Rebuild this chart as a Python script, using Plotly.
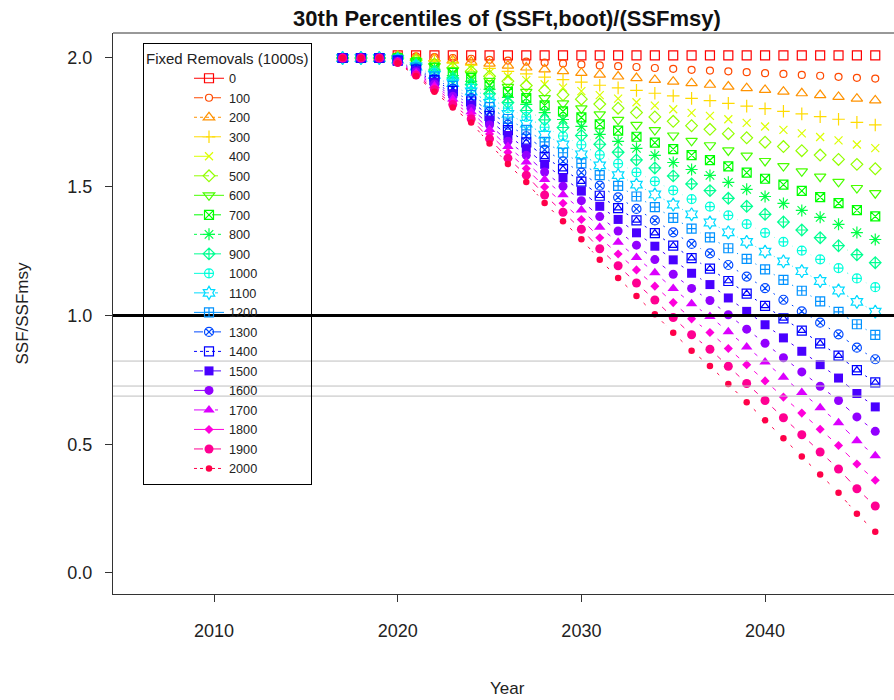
import math
import plotly.graph_objects as go

# ---------------- data ----------------
years = [2017, 2018, 2019, 2020, 2021, 2022, 2023, 2024, 2025, 2026,
         2027, 2028, 2029, 2030, 2031, 2032, 2033, 2034, 2035, 2036,
         2037, 2038, 2039, 2040, 2041, 2042, 2043, 2044, 2045, 2046]

removals = [0, 100, 200, 300, 400, 500, 600, 700, 800, 900, 1000,
            1100, 1200, 1300, 1400, 1500, 1600, 1700, 1800, 1900, 2000]

s0 = [2.0, 2.0, 2.0, 2.01, 2.01, 2.01, 2.01, 2.01, 2.01, 2.01, 2.01, 2.01, 2.01, 2.01, 2.01,
      2.01, 2.01, 2.01, 2.01, 2.01, 2.01, 2.01, 2.01, 2.01, 2.01, 2.01, 2.01, 2.01, 2.01, 2.01]
s100 = [2.0, 2.0, 2.0, 2.009, 2.006, 2.003, 2.000, 1.997, 1.993, 1.990, 1.986, 1.982, 1.979, 1.975,
        1.971, 1.968, 1.965, 1.961, 1.958, 1.954, 1.951, 1.948, 1.945, 1.941, 1.938, 1.934, 1.931,
        1.927, 1.923, 1.920]
s200 = [2.0, 2.0, 2.0, 2.007, 2.002, 1.997, 1.991, 1.985, 1.978, 1.970, 1.963, 1.956, 1.949, 1.942,
        1.935, 1.928, 1.922, 1.915, 1.908, 1.902, 1.896, 1.889, 1.883, 1.876, 1.869, 1.863, 1.856,
        1.849, 1.842, 1.835]
s300 = [2.0, 2.0, 2.0, 2.006, 1.998, 1.990, 1.981, 1.972, 1.960, 1.948, 1.938, 1.926, 1.916, 1.906,
        1.894, 1.884, 1.874, 1.863, 1.853, 1.843, 1.834, 1.824, 1.813, 1.803, 1.793, 1.783, 1.772,
        1.762, 1.750, 1.740]
s400 = [2.0, 2.0, 2.0, 2.004, 1.994, 1.983, 1.971, 1.959, 1.943, 1.928, 1.914, 1.898, 1.885, 1.871,
        1.856, 1.842, 1.828, 1.815, 1.801, 1.787, 1.775, 1.762, 1.748, 1.734, 1.721, 1.707, 1.693,
        1.680, 1.664, 1.650]
s500 = [2.0, 2.0, 2.0, 2.003, 1.991, 1.977, 1.962, 1.948, 1.929, 1.910, 1.893, 1.874, 1.857, 1.840,
        1.821, 1.805, 1.788, 1.771, 1.754, 1.737, 1.723, 1.706, 1.690, 1.673, 1.656, 1.640, 1.623,
        1.606, 1.587, 1.570]
s600 = [2.0, 2.0, 2.0, 2.001, 1.987, 1.969, 1.952, 1.935, 1.911, 1.888, 1.868, 1.844, 1.824, 1.804,
        1.781, 1.760, 1.740, 1.720, 1.699, 1.678, 1.661, 1.641, 1.621, 1.600, 1.580, 1.560, 1.539,
        1.519, 1.495, 1.475]
s700 = [2.0, 2.0, 2.0, 2.000, 1.983, 1.963, 1.942, 1.922, 1.894, 1.868, 1.844, 1.816, 1.793, 1.769,
        1.742, 1.718, 1.694, 1.671, 1.646, 1.623, 1.603, 1.579, 1.555, 1.531, 1.508, 1.484, 1.460,
        1.436, 1.409, 1.385]
s800 = [2.0, 2.0, 2.0, 1.999, 1.979, 1.956, 1.932, 1.909, 1.878, 1.847, 1.820, 1.788, 1.761, 1.734,
        1.703, 1.676, 1.649, 1.622, 1.594, 1.567, 1.544, 1.517, 1.490, 1.462, 1.435, 1.408, 1.381,
        1.354, 1.322, 1.295]
s900 = [2.0, 2.0, 2.0, 1.997, 1.975, 1.949, 1.922, 1.897, 1.861, 1.827, 1.796, 1.760, 1.730, 1.699,
        1.665, 1.634, 1.604, 1.573, 1.542, 1.511, 1.485, 1.455, 1.424, 1.393, 1.363, 1.332, 1.302,
        1.271, 1.236, 1.205]
s1000 = [2.0, 2.0, 2.0, 1.996, 1.971, 1.942, 1.912, 1.883, 1.844, 1.805, 1.771, 1.731, 1.697, 1.663,
         1.624, 1.590, 1.556, 1.521, 1.486, 1.452, 1.423, 1.389, 1.355, 1.321, 1.286, 1.252, 1.218,
         1.184, 1.144, 1.110]
s1100 = [2.0, 2.0, 2.0, 1.994, 1.967, 1.934, 1.902, 1.870, 1.826, 1.783, 1.745, 1.702, 1.664, 1.626,
         1.583, 1.545, 1.508, 1.470, 1.431, 1.393, 1.361, 1.323, 1.286, 1.248, 1.210, 1.172, 1.134,
         1.097, 1.053, 1.015]
s1200 = [2.0, 2.0, 2.0, 1.993, 1.963, 1.928, 1.892, 1.857, 1.809, 1.763, 1.721, 1.674, 1.632, 1.591,
         1.545, 1.503, 1.462, 1.421, 1.379, 1.337, 1.303, 1.261, 1.220, 1.179, 1.138, 1.096, 1.055,
         1.014, 0.966, 0.925]
s1300 = [2.0, 2.0, 2.0, 1.991, 1.959, 1.920, 1.881, 1.844, 1.792, 1.741, 1.696, 1.644, 1.599, 1.555,
         1.504, 1.459, 1.414, 1.369, 1.323, 1.278, 1.241, 1.196, 1.151, 1.106, 1.061, 1.016, 0.972,
         0.927, 0.875, 0.830]
s1400 = [2.0, 2.0, 2.0, 1.990, 1.955, 1.914, 1.872, 1.831, 1.775, 1.720, 1.672, 1.616, 1.568, 1.520,
         1.465, 1.417, 1.369, 1.320, 1.271, 1.223, 1.182, 1.134, 1.085, 1.037, 0.989, 0.941, 0.892,
         0.844, 0.788, 0.740]
s1500 = [2.0, 2.0, 2.0, 1.988, 1.951, 1.906, 1.861, 1.818, 1.758, 1.699, 1.647, 1.587, 1.535, 1.483,
         1.424, 1.373, 1.321, 1.269, 1.216, 1.164, 1.120, 1.068, 1.016, 0.964, 0.913, 0.861, 0.809,
         0.757, 0.697, 0.645]
s1600 = [2.0, 2.0, 2.0, 1.987, 1.947, 1.899, 1.851, 1.804, 1.740, 1.677, 1.622, 1.557, 1.502, 1.446,
         1.384, 1.328, 1.273, 1.217, 1.160, 1.105, 1.058, 1.003, 0.947, 0.892, 0.836, 0.781, 0.725,
         0.670, 0.606, 0.550]
s1700 = [2.0, 2.0, 2.0, 1.985, 1.942, 1.892, 1.841, 1.791, 1.722, 1.656, 1.596, 1.528, 1.469, 1.410,
         1.343, 1.284, 1.225, 1.166, 1.105, 1.046, 0.996, 0.937, 0.878, 0.819, 0.760, 0.701, 0.642,
         0.583, 0.514, 0.455]
s1800 = [2.0, 2.0, 2.0, 1.984, 1.938, 1.885, 1.830, 1.777, 1.705, 1.634, 1.571, 1.499, 1.436, 1.373,
         1.302, 1.239, 1.177, 1.114, 1.050, 0.987, 0.934, 0.872, 0.809, 0.746, 0.683, 0.621, 0.558,
         0.495, 0.423, 0.360]
s1900 = [2.0, 2.0, 2.0, 1.982, 1.934, 1.877, 1.819, 1.763, 1.686, 1.611, 1.545, 1.468, 1.401, 1.335,
         1.259, 1.193, 1.126, 1.060, 0.992, 0.925, 0.869, 0.803, 0.736, 0.670, 0.603, 0.537, 0.470,
         0.404, 0.327, 0.260]
s2000 = [2.0, 2.0, 2.0, 1.980, 1.930, 1.869, 1.808, 1.749, 1.668, 1.588, 1.518, 1.437, 1.366, 1.296,
         1.216, 1.146, 1.076, 1.005, 0.933, 0.863, 0.804, 0.734, 0.663, 0.593, 0.523, 0.452, 0.382,
         0.312, 0.230, 0.160]

series = [s0, s100, s200, s300, s400, s500, s600, s700, s800, s900, s1000,
          s1100, s1200, s1300, s1400, s1500, s1600, s1700, s1800, s1900, s2000]

target_level = [1.0]
other_levels = [0.823, 0.726, 0.687]

x_ticks = [2010, 2020, 2030, 2040]
y_ticks = [0.0, 0.5, 1.0, 1.5, 2.0]
y_ticktext = ["0.0", "0.5", "1.0", "1.5", "2.0"]

# ---------------- styles ----------------
colors = ["#FF0000", "#FF4900", "#FF9200", "#FFDB00", "#DBFF00", "#92FF00", "#49FF00",
          "#00FF00", "#00FF49", "#00FF92", "#00FFDB", "#00DBFF", "#0092FF", "#0049FF",
          "#0000FF", "#4900FF", "#9200FF", "#DB00FF", "#FF00DB", "#FF0092", "#FF0049"]
symbols = ["square-open", "circle-open", "triangle-up-open", "cross-thin-open", "x-thin-open",
           "diamond-open", "triangle-down-open", "square-x-open", "asterisk-open",
           "diamond-cross-open", "circle-cross-open", "hexagram-open", "square-cross-open",
           "circle-x-open", "square-open", "square", "circle", "triangle-up", "diamond",
           "circle", "circle"]
sizes = [9, 7, 10, 9, 8, 9, 10, 9, 10, 9, 9, 10, 9, 9, 9, 9, 9, 10, 7, 9, 6.5]
dashes = ["solid", "dash", "dot", "dashdot", "longdash", "longdashdot"]

FONT = "Arial, Liberation Sans, sans-serif"
W, H = 894, 700
M = dict(l=113, r=0, t=33, b=106)
x_range = [2004.5, 2047.02]
y_range = [-0.0816, 2.097]
px_x = (W - M["l"] - M["r"]) / (x_range[1] - x_range[0])
px_y = (H - M["t"] - M["b"]) / (y_range[1] - y_range[0])
GAP = 10  # px gap around points (type="b" look)


def gapped(xs, ys):
    gx, gy = [], []
    for i in range(len(xs) - 1):
        dx = (xs[i + 1] - xs[i]) * px_x
        dy = (ys[i + 1] - ys[i]) * px_y
        L = math.hypot(dx, dy)
        if L > 2 * GAP:
            t = GAP / L
            gx += [xs[i] + t * (xs[i + 1] - xs[i]), xs[i + 1] - t * (xs[i + 1] - xs[i]), None]
            gy += [ys[i] + t * (ys[i + 1] - ys[i]), ys[i + 1] - t * (ys[i + 1] - ys[i]), None]
    return gx, gy


def marker_style(i):
    sym = symbols[i]
    if sym.endswith("-open"):
        return dict(symbol=sym, size=sizes[i], color=colors[i],
                    line=dict(color=colors[i], width=1.2))
    return dict(symbol=sym, size=sizes[i], color=colors[i], line=dict(width=0))


fig = go.Figure()

# connecting line pieces
for i, ys in enumerate(series):
    gx, gy = gapped(years, ys)
    fig.add_trace(go.Scatter(x=gx, y=gy, mode="lines", showlegend=False, hoverinfo="skip",
                             line=dict(color=colors[i], width=1, dash=dashes[i % 6])))

# points
for i, ys in enumerate(series):
    fig.add_trace(go.Scatter(x=years, y=ys, mode="markers", showlegend=False,
                             name=str(removals[i]), marker=marker_style(i)))
    if i == 14:  # square with triangle inside
        fig.add_trace(go.Scatter(x=years, y=ys, mode="markers", showlegend=False,
                                 hoverinfo="skip",
                                 marker=dict(symbol="triangle-up-open", size=7, color=colors[i],
                                             line=dict(color=colors[i], width=1.2))))

# legend entries
for i, r in enumerate(removals):
    fig.add_trace(go.Scatter(x=[None], y=[None], mode="lines+markers", name=str(r),
                             line=dict(color=colors[i], width=1, dash=dashes[i % 6]),
                             marker=marker_style(i)))

shapes = []
for v in target_level:
    shapes.append(dict(type="line", xref="paper", x0=0, x1=1, yref="y", y0=v, y1=v,
                       line=dict(color="#000000", width=3), layer="above"))
for v in other_levels:
    shapes.append(dict(type="line", xref="paper", x0=0, x1=1, yref="y", y0=v, y1=v,
                       line=dict(color="#BEBEBE", width=1), layer="above"))
shapes.append(dict(type="line", xref="paper", x0=0, x1=1, yref="paper", y0=1, y1=1,
                   line=dict(color="#333333", width=1)))

fig.update_layout(
    width=W, height=H, margin=M,
    paper_bgcolor="white", plot_bgcolor="white",
    font=dict(family=FONT, color="#222222"),
    title=dict(text="30th Percentiles of (SSFt,boot)/(SSFmsy)", xref="container",
               x=507 / W, xanchor="center", yref="container", y=1 - 18 / H, yanchor="middle",
               font=dict(size=22, weight="bold", color="#111111", family=FONT)),
    xaxis=dict(range=x_range, tickvals=x_ticks, ticks="outside", ticklen=7,
               tickcolor="#333333", showline=True, linecolor="#333333", linewidth=1,
               showgrid=False, zeroline=False, tickfont=dict(size=18), ticklabelstandoff=13),
    yaxis=dict(range=y_range, tickvals=y_ticks, ticktext=y_ticktext, ticks="outside",
               ticklen=7, tickcolor="#333333", showline=True, linecolor="#333333",
               linewidth=1, showgrid=False, zeroline=False, tickfont=dict(size=18),
               ticklabelstandoff=9),
    legend=dict(x=(143 - 113) / 781, y=(594 - 43) / 561, xanchor="left", yanchor="top",
                bordercolor="#000000", borderwidth=1, bgcolor="rgba(0,0,0,0)",
                font=dict(size=12.7, family=FONT),
                title=dict(text="Fixed Removals (1000s)", font=dict(size=15, family=FONT)),
                indentation=45, itemwidth=30),
    shapes=shapes,
    annotations=[
        dict(text="Year", xref="paper", yref="paper", x=(507 - 113) / 781,
             y=(594 - 688) / 561, xanchor="center", yanchor="middle", showarrow=False,
             font=dict(size=17)),
        dict(text="SSF/SSFmsy", xref="paper", yref="paper", x=(22 - 113) / 781, y=0.5,
             xanchor="center", yanchor="middle", textangle=-90, showarrow=False,
             font=dict(size=17)),
    ],
)

fig.write_html("out.html")
